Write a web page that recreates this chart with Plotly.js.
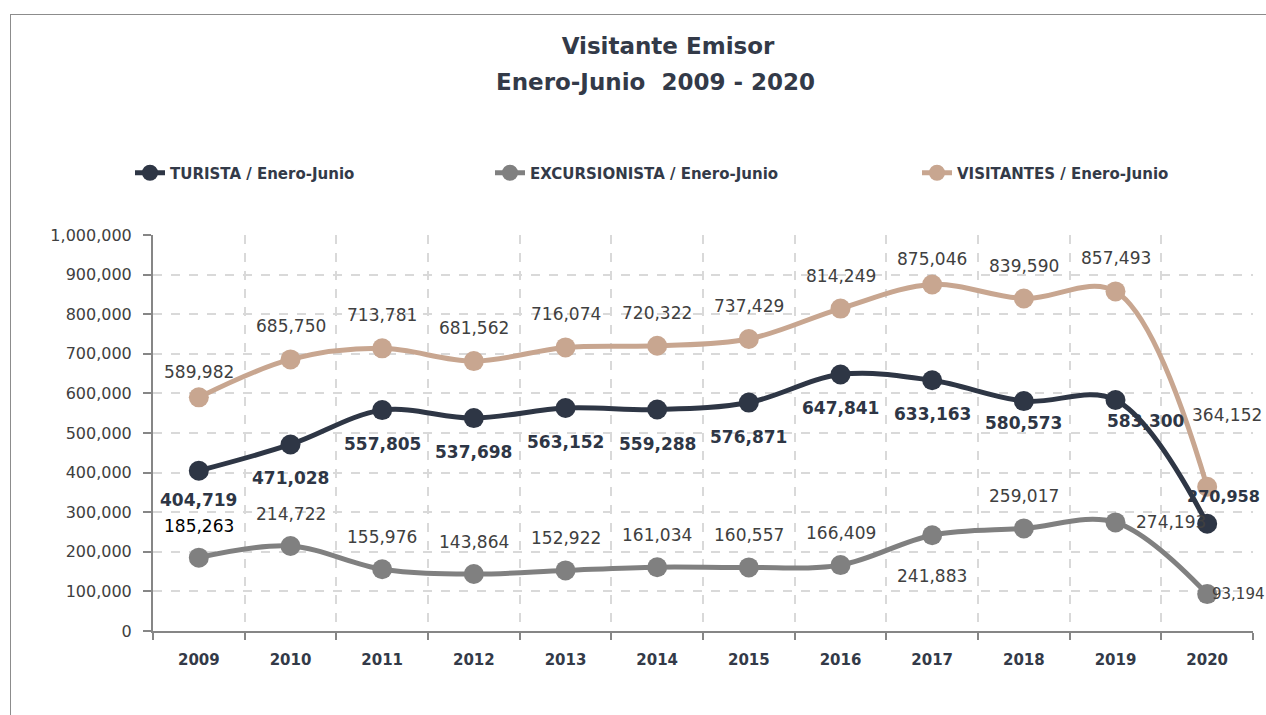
<!DOCTYPE html>
<html>
<head>
<meta charset="utf-8">
<script src="https://cdn.plot.ly/plotly-3.0.1.min.js"></script>
<style>
  html, body { margin: 0; padding: 0; background: #ffffff; overflow: hidden; }
  #frame { position: absolute; left: 10px; top: 14px; width: 1400px; height: 900px; border: 1px solid #8c8c8c; box-sizing: border-box; }
  #chart { position: absolute; left: 0; top: 0; width: 1266px; height: 715px; }
</style>
</head>
<body>
<div id="frame"></div>
<div id="chart"></div>
<script>
// ---- Data ----
const years = ['2009','2010','2011','2012','2013','2014','2015','2016','2017','2018','2019','2020'];
const turista = [404719, 471028, 557805, 537698, 563152, 559288, 576871, 647841, 633163, 580573, 583300, 270958];
const excursionista = [185263, 214722, 155976, 143864, 152922, 161034, 160557, 166409, 241883, 259017, 274193, 93194];
const visitantes = [589982, 685750, 713781, 681562, 716074, 720322, 737429, 814249, 875046, 839590, 857493, 364152];
const seriesNames = ['TURISTA / Enero-Junio', 'EXCURSIONISTA / Enero-Junio', 'VISITANTES / Enero-Junio'];

// ---- Styles ----
const FONT = 'DejaVu Sans, Verdana, sans-serif';
const colTur = '#2e3645';
const colExc = '#808080';
const colVis = '#c8a690';
const textDark = '#404040';

function mkTrace(name, vals, color, legendId) {
  return {
    type: 'scatter', mode: 'lines+markers', name: name,
    x: years, y: vals,
    line: { color: color, width: 5, shape: 'spline', smoothing: 1 },
    marker: { color: color, size: 20 },
    legend: legendId,
    hoverinfo: 'x+y'
  };
}

const traces = [
  mkTrace(seriesNames[2], visitantes, colVis, 'legend3'),
  mkTrace(seriesNames[1], excursionista, colExc, 'legend2'),
  mkTrace(seriesNames[0], turista, colTur, 'legend')
];

// ---- Data labels (built from the arrays) ----
const fmt = v => v.toLocaleString('en-US');
const annotations = [];
function addLabels(vals, opts, overrides) {
  vals.forEach((v, i) => {
    const o = Object.assign({}, opts, overrides[i] || {});
    annotations.push({
      x: i, y: v, xref: 'x', yref: 'y',
      text: fmt(v), showarrow: false,
      xanchor: o.xanchor || 'center', yanchor: 'middle',
      xshift: o.dx || 0, yshift: o.dy,
      font: { family: FONT, size: o.size || 17, color: o.color, weight: o.weight }
    });
  });
}
addLabels(visitantes, { dy: 33, color: textDark, weight: 'normal' },
  { 0: { dy: 25 }, 8: { dy: 25 }, 11: { dx: 20, dy: 72 } });
addLabels(turista, { dy: -34, color: colTur, weight: 'bold' },
  { 0: { dy: -29 }, 9: { dy: -22 }, 10: { dx: 30, dy: -21 }, 11: { dx: 16, dy: 27, size: 16 } });
addLabels(excursionista, { dy: 32, color: textDark, weight: 'normal' },
  { 0: { color: '#000000' }, 8: { dy: -41 }, 10: { dx: 55, dy: 0 }, 11: { xanchor: 'left', dx: 3, dy: 0, size: 15 } });

// second title line
annotations.push({
  xref: 'paper', yref: 'paper', x: (655 - 153) / 1100, y: (631 - 82) / 396,
  xanchor: 'center', yanchor: 'middle', showarrow: false,
  text: 'Enero-Junio\u00a0 2009 - 2020',
  font: { family: FONT, size: 23, color: '#333a48', weight: 'bold' }
});

const legendBase = {
  orientation: 'h', yanchor: 'middle', xanchor: 'left',
  y: (631 - 173) / 396, bgcolor: 'rgba(0,0,0,0)',
  font: { family: FONT, size: 15, color: '#333a48', weight: 'bold' },
  itemclick: false, itemdoubleclick: false
};

const layout = {
  width: 1266, height: 715,
  margin: { l: 153, r: 13, t: 235, b: 84 },
  paper_bgcolor: 'rgba(0,0,0,0)', plot_bgcolor: 'rgba(0,0,0,0)',
  font: { family: FONT, color: textDark },
  title: {
    text: 'Visitante Emisor',
    xref: 'container', yref: 'container',
    x: 668 / 1266, xanchor: 'center', y: 1 - 46 / 715, yanchor: 'middle',
    font: { family: FONT, size: 23, color: '#333a48', weight: 'bold' }
  },
  showlegend: true,
  legend: Object.assign({}, legendBase, { x: (130 - 153) / 1100 }),
  legend2: Object.assign({}, legendBase, { x: (490 - 153) / 1100 }),
  legend3: Object.assign({}, legendBase, { x: (917 - 153) / 1100 }),
  xaxis: {
    type: 'category', range: [-0.5, 11.5],
    showline: true, linecolor: '#868686', linewidth: 2,
    ticks: 'outside', ticklen: 7, tickcolor: '#868686', tickwidth: 1.5,
    tickson: 'boundaries',
    showgrid: true, gridcolor: '#d9d9d9', griddash: 'dash', gridwidth: 1.5,
    tickfont: { family: FONT, size: 15, color: '#333a48', weight: 'bold' },
    ticklabelstandoff: 14,
    zeroline: false, fixedrange: true
  },
  yaxis: {
    range: [0, 1000000], dtick: 100000, tick0: 0, tickformat: ',d',
    showline: true, linecolor: '#868686', linewidth: 2,
    ticks: 'outside', ticklen: 8, tickcolor: '#868686', tickwidth: 1.5,
    showgrid: true, gridcolor: '#d9d9d9', griddash: 'dash', gridwidth: 1.5,
    tickfont: { family: FONT, size: 16, color: textDark },
    ticklabelstandoff: 8,
    zeroline: false, fixedrange: true
  },
  annotations: annotations
};

Plotly.newPlot('chart', traces, layout, { displayModeBar: false, staticPlot: false });
</script>
</body>
</html>
